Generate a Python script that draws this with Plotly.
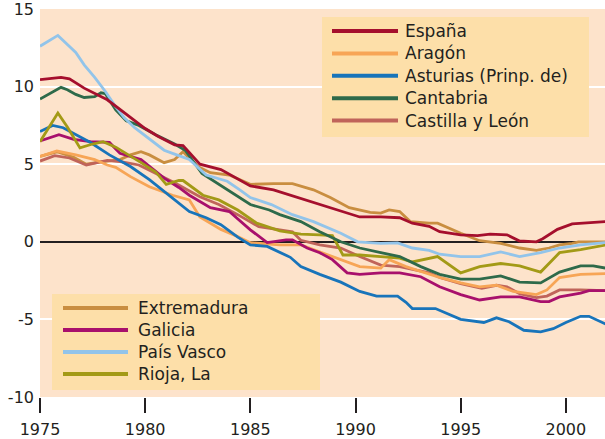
import plotly.graph_objects as go

# ---------------- data ----------------
years_espana = [1975.0, 1976.0, 1976.4, 1977.1, 1978.2, 1979.4, 1980.0, 1980.6, 1981.4, 1981.8, 1982.6,
                1983.6, 1984.5, 1985.0, 1986.1, 1986.9, 1987.8, 1988.8, 1990.2, 1991.2, 1992.1, 1992.7,
                1993.5, 1994.0, 1995.0, 1995.8, 1996.4, 1997.2, 1997.8, 1998.6, 1998.9, 1999.6, 2000.3, 2001.9]
vals_espana = [10.45, 10.6, 10.5, 9.9, 9.15, 7.9, 7.3, 6.8, 6.25, 6.2, 5.0,
               4.65, 4.0, 3.6, 3.35, 3.0, 2.6, 2.2, 1.6, 1.6, 1.55, 1.2,
               1.0, 0.65, 0.45, 0.4, 0.5, 0.45, 0.05, 0.0, 0.2, 0.8, 1.15, 1.3]

years_aragon = [1975.0, 1975.8, 1976.7, 1977.6, 1978.2, 1978.6, 1979.3, 1980.2, 1981.3, 1982.1, 1982.6,
                1983.6, 1984.3, 1985.0, 1986.4, 1987.4, 1988.0, 1989.3, 1990.2, 1991.2, 1991.6, 1992.4,
                1993.5, 1994.0, 1995.0, 1995.9, 1996.7, 1997.5, 1998.6, 1999.1, 1999.7, 2000.7, 2001.9]
vals_aragon = [5.5, 5.85, 5.6, 5.3, 4.95, 4.8, 4.2, 3.55, 3.0, 2.7, 1.6,
               0.8, 0.4, -0.06, -0.2, -0.2, -0.5, -1.15, -1.6, -1.7, -1.15, -1.6,
               -2.1, -2.3, -2.65, -2.9, -2.8, -3.2, -3.4, -3.1, -2.3, -2.1, -2.05]

years_asturias = [1975.0, 1975.6, 1976.1, 1977.4, 1978.3, 1979.3, 1980.2, 1981.2, 1982.1, 1982.9, 1983.6,
                  1984.4, 1985.0, 1985.8, 1986.4, 1986.9, 1987.4, 1988.3, 1989.3, 1990.2, 1991.0, 1992.0,
                  1992.4, 1992.7, 1993.8, 1995.0, 1996.1, 1996.7, 1997.3, 1998.0, 1998.8, 1999.4, 2000.0,
                  2000.7, 2001.1, 2001.9]
vals_asturias = [7.1, 7.5, 7.35, 6.4, 5.6, 4.85, 4.0, 2.95, 1.95, 1.55, 1.1,
                 0.3, -0.2, -0.3, -0.7, -1.0, -1.6, -2.1, -2.6, -3.2, -3.5, -3.5,
                 -3.9, -4.3, -4.3, -5.0, -5.2, -4.9, -5.15, -5.7, -5.8, -5.6, -5.2,
                 -4.8, -4.8, -5.3]

years_cantabria = [1975.0, 1976.0, 1976.3, 1976.7, 1977.1, 1977.6, 1977.9, 1978.1, 1978.6, 1979.1, 1979.7,
                   1980.5, 1981.4, 1981.9, 1982.7, 1983.5, 1984.3, 1985.0, 1985.9, 1986.4, 1987.4, 1988.3,
                   1989.3, 1990.2, 1991.2, 1992.1, 1993.1, 1994.0, 1995.0, 1995.9, 1996.9, 1997.8, 1998.8,
                   1999.7, 2000.7, 2001.3, 2001.9]
vals_cantabria = [9.2, 9.95, 9.8, 9.5, 9.3, 9.35, 9.6, 9.55, 8.5, 7.8, 7.5,
                  6.9, 6.3, 5.9, 4.4, 3.7, 3.0, 2.4, 2.05, 1.75, 1.3, 0.65,
                  0.0, -0.4, -0.7, -0.95, -1.6, -2.1, -2.4, -2.4, -2.2, -2.6, -2.65,
                  -1.95, -1.55, -1.55, -1.7]

years_castilla = [1975.0, 1975.7, 1976.4, 1977.2, 1978.2, 1978.9, 1979.7, 1980.7, 1981.4, 1982.6, 1983.5,
                  1984.4, 1985.4, 1986.4, 1987.0, 1987.4, 1988.3, 1989.3, 1990.2, 1991.2, 1992.1, 1993.5,
                  1994.0, 1995.0, 1996.0, 1996.7, 1997.2, 1997.8, 1998.6, 1999.1, 1999.7, 2000.7, 2001.9]
vals_castilla = [5.2, 5.55, 5.4, 4.95, 5.25, 5.15, 4.95, 4.3, 3.8, 2.9, 2.4,
                 1.75, 0.97, 0.77, 0.65, 0.1, -0.2, -0.4, -0.95, -1.5, -1.6, -2.0,
                 -2.3, -2.7, -3.0, -2.8, -2.9, -3.35, -3.6, -3.5, -3.1, -3.1, -3.15]

years_extremadura = [1975.0, 1975.8, 1976.6, 1977.2, 1977.9, 1978.8, 1979.3, 1979.8, 1980.2, 1980.9, 1981.4,
                     1981.8, 1982.5, 1983.1, 1984.0, 1985.0, 1986.1, 1987.0, 1988.0, 1988.8, 1989.7, 1990.7,
                     1991.2, 1991.6, 1992.1, 1992.6, 1993.5, 1993.9, 1995.0, 1995.9, 1996.9, 1997.8, 1998.6,
                     1999.2, 1999.7, 2000.3, 2000.6, 2001.9]
vals_extremadura = [5.5, 5.8, 5.45, 5.0, 5.15, 5.3, 5.6, 5.8, 5.6, 5.1, 5.3,
                    5.8, 4.85, 4.45, 4.3, 3.7, 3.75, 3.75, 3.35, 2.85, 2.2, 1.9,
                    1.85, 2.05, 1.95, 1.3, 1.2, 1.2, 0.55, 0.07, -0.1, -0.4, -0.55,
                    -0.4, -0.2, -0.1, 0.0, 0.0]

years_galicia = [1975.0, 1975.9, 1976.6, 1977.4, 1978.3, 1978.8, 1979.8, 1980.9, 1981.6, 1982.1, 1983.1,
                 1984.0, 1985.0, 1985.8, 1986.7, 1987.0, 1987.7, 1988.3, 1988.9, 1989.6, 1990.2, 1991.2,
                 1992.1, 1993.1, 1994.0, 1995.0, 1995.9, 1996.9, 1997.8, 1998.8, 1999.2, 1999.7, 2000.7,
                 2001.1, 2001.9]
vals_galicia = [6.5, 6.9, 6.6, 6.45, 6.4, 5.7, 5.3, 4.1, 3.5, 3.0, 2.2,
                1.95, 0.77, -0.05, 0.13, 0.13, -0.4, -0.7, -1.15, -2.0, -2.1, -2.0,
                -2.0, -2.25, -2.9, -3.4, -3.75, -3.55, -3.55, -3.85, -3.85, -3.55, -3.3,
                -3.15, -3.15]

years_paisvasco = [1975.0, 1975.85, 1976.7, 1977.1, 1977.6, 1978.1, 1978.6, 1979.0, 1979.5, 1980.0, 1980.5,
                   1980.9, 1981.4, 1981.9, 1982.1, 1982.9, 1983.9, 1984.5, 1985.0, 1986.0, 1987.0, 1988.0,
                   1989.3, 1990.1, 1991.2, 1992.0, 1992.7, 1993.5, 1994.0, 1995.0, 1995.9, 1996.9, 1997.8,
                   1998.8, 1999.7, 2000.7, 2001.9]
vals_paisvasco = [12.6, 13.3, 12.2, 11.4, 10.6, 9.7, 8.7, 8.0, 7.35, 6.85, 6.3,
                  5.9, 5.65, 5.4, 5.3, 4.3, 3.9, 3.35, 2.85, 2.4, 1.75, 1.3,
                  0.55, 0.0, -0.1, -0.07, -0.4, -0.55, -0.8, -0.95, -0.95, -0.65, -0.95,
                  -0.7, -0.4, -0.2, -0.05]

years_rioja = [1975.0, 1975.85, 1976.3, 1976.9, 1977.5, 1978.0, 1978.6, 1979.1, 1979.75, 1980.5, 1981.0,
               1981.6, 1981.8, 1982.75, 1983.5, 1984.4, 1985.3, 1986.4, 1987.4, 1988.3, 1988.9, 1989.4,
               1990.2, 1991.2, 1992.1, 1992.7, 1993.5, 1993.9, 1995.0, 1995.9, 1996.9, 1997.8, 1998.8,
               1999.7, 2000.7, 2001.9]
vals_rioja = [6.45, 8.3, 7.4, 6.05, 6.3, 6.45, 6.1, 5.7, 5.15, 4.5, 3.7,
              3.95, 3.95, 3.0, 2.7, 2.05, 1.2, 0.7, 0.5, 0.45, 0.4, -0.85,
              -0.85, -0.95, -1.05, -1.3, -1.05, -0.95, -2.0, -1.6, -1.4, -1.55, -1.95,
              -0.7, -0.5, -0.2]

names_group1 = ["España", "Aragón", "Asturias (Prinp. de)", "Cantabria", "Castilla y León"]
names_group2 = ["Extremadura", "Galicia", "País Vasco", "Rioja, La"]

x_tick_vals = [1975, 1980, 1985, 1990, 1995, 2000]
y_tick_vals = [-10, -5, 0, 5, 10, 15]
y_tick_text = ["-10", "-5", "0", "5", "10", "15"]

series = [
    ("Extremadura", years_extremadura, vals_extremadura, "#C98E40"),
    ("Castilla y León", years_castilla, vals_castilla, "#C0645A"),
    ("Aragón", years_aragon, vals_aragon, "#F7A556"),
    ("Galicia", years_galicia, vals_galicia, "#A8106C"),
    ("Asturias (Prinp. de)", years_asturias, vals_asturias, "#1874BA"),
    ("Rioja, La", years_rioja, vals_rioja, "#A39A16"),
    ("Cantabria", years_cantabria, vals_cantabria, "#2E6A4A"),
    ("País Vasco", years_paisvasco, vals_paisvasco, "#92C4EA"),
    ("España", years_espana, vals_espana, "#A50F2D"),
]
colors = {n: c for n, _, _, c in series}

# ---------------- figure ----------------
W, H = 605, 439
L, R, T, B = 40, 0, 9, 42
PW, PH = W - L - R, H - T - B
FONT = "DejaVu Sans"
TXT = "#231F20"


def px(x):
    return (x - L) / PW


def py(y):
    return (H - B - y) / PH


fig = go.Figure()
for name, xs, ys, color in series:
    fig.add_trace(go.Scatter(x=xs, y=ys, mode="lines", name=name,
                             line=dict(color=color, width=2.8), showlegend=False))

shapes = []
annotations = []


def legend_box(names, x0, x1, y0, y1, line_x0, line_x1, text_x, first_y, step):
    shapes.append(dict(type="rect", xref="paper", yref="paper", x0=px(x0), x1=px(x1),
                       y0=py(y1), y1=py(y0), fillcolor="#FDDFA9", line=dict(width=0), layer="above"))
    for i, n in enumerate(names):
        yy = first_y + step * i
        shapes.append(dict(type="line", xref="paper", yref="paper", x0=px(line_x0), x1=px(line_x1),
                           y0=py(yy), y1=py(yy), line=dict(color=colors[n], width=4), layer="above"))
        annotations.append(dict(text=n, xref="paper", yref="paper", x=px(text_x), y=py(yy),
                                xanchor="left", yanchor="middle", showarrow=False,
                                font=dict(family=FONT, size=17, color=TXT)))


legend_box(names_group1, 322, 589, 17, 137, 332, 398, 403, 31, 22.4)
legend_box(names_group2, 52, 320, 294, 390, 63, 128, 136, 308, 22.0)

fig.update_layout(
    width=W, height=H,
    margin=dict(l=L, r=R, t=T, b=B, pad=0),
    paper_bgcolor="white",
    plot_bgcolor="#FDE3CB",
    shapes=shapes,
    annotations=annotations,
    showlegend=False,
    font=dict(family=FONT, size=16, color=TXT),
)
fig.update_xaxes(range=[1975, 2001.86], tickvals=x_tick_vals, ticks="outside", ticklen=15,
                 tickwidth=2, tickcolor=TXT, showgrid=False, zeroline=False, showline=False,
                 ticklabeloverflow="allow", ticklabelstandoff=3,
                 tickfont=dict(family=FONT, size=16, color=TXT))
fig.update_yaxes(range=[-10, 15], tickvals=y_tick_vals, ticktext=y_tick_text, ticks="",
                 showgrid=True, gridcolor="white", gridwidth=2, ticklabeloverflow="allow",
                 ticklabelstandoff=5,
                 zeroline=True, zerolinecolor=TXT, zerolinewidth=2, showline=False,
                 tickfont=dict(family=FONT, size=16, color=TXT))

fig.write_html("out.html", config={"displayModeBar": False},
               post_script="document.body.style.margin='0';document.body.style.overflow='hidden';")
